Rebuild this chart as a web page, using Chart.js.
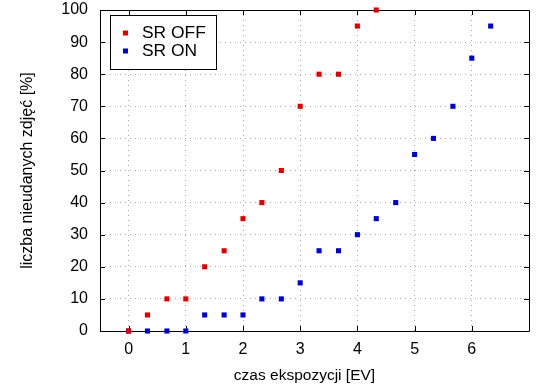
<!DOCTYPE html>
<html>
<head>
<meta charset="utf-8">
<script src="https://cdn.jsdelivr.net/npm/chart.js@4/dist/chart.umd.min.js"></script>
<style>
  html, body { margin: 0; padding: 0; background: #fff; }
  #wrap { width: 550px; height: 389px; }
</style>
</head>
<body>
<div id="wrap"><canvas id="ev-chart"></canvas></div>
<script>
// data
let evOff = [0, 0.33, 0.67, 1, 1.33, 1.67, 2, 2.33, 2.67, 3, 3.33, 3.67, 4, 4.33];
let failOff = [0, 5, 10, 10, 20, 25, 35, 40, 50, 70, 80, 80, 95, 100];
let evOn = [0, 0.33, 0.67, 1, 1.33, 1.67, 2, 2.33, 2.67, 3, 3.33, 3.67, 4, 4.33, 4.67, 5, 5.33, 5.67, 6, 6.33];
let failOn = [0, 0, 0, 0, 5, 5, 5, 10, 10, 15, 25, 25, 30, 35, 40, 55, 60, 70, 85, 95];
let xTicks = [0, 1, 2, 3, 4, 5, 6];
let yTicks = [0, 10, 20, 30, 40, 50, 60, 70, 80, 90, 100];
let seriesNames = ['SR OFF', 'SR ON'];
let seriesColors = ['rgb(225, 0, 0)', 'rgb(0, 0, 210)'];
let xTitle = 'czas ekspozycji [EV]';

Chart.defaults.font.family = "'Liberation Sans', Arial, sans-serif";
Chart.defaults.font.size = 16;
Chart.defaults.color = '#000';

function toPoints(xs, ys) {
    return xs.map((x, i) => ({ x: x, y: ys[i] }));
}

// black frame + inward tick marks (gnuplot style)
let frame = {
    id: 'frame',
    beforeDatasetsDraw(chart) {
        let ctx = chart.ctx;
        let a = chart.chartArea;
        let xs = chart.scales.x, ys = chart.scales.y;
        ctx.save();
        ctx.strokeStyle = '#000';
        ctx.lineWidth = 1;
        ctx.beginPath();
        ctx.rect(Math.round(a.left) + 0.5, Math.round(a.top) + 0.5,
                 Math.round(a.right - a.left), Math.round(a.bottom - a.top));
        xs.ticks.forEach(t => {
            let px = Math.round(xs.getPixelForValue(t.value)) + 0.5;
            ctx.moveTo(px, a.bottom); ctx.lineTo(px, a.bottom - 5);
            ctx.moveTo(px, a.top); ctx.lineTo(px, a.top + 5);
        });
        ys.ticks.forEach(t => {
            let py = Math.round(ys.getPixelForValue(t.value)) + 0.5;
            ctx.moveTo(a.left, py); ctx.lineTo(a.left + 5, py);
            ctx.moveTo(a.right, py); ctx.lineTo(a.right - 5, py);
        });
        ctx.stroke();
        ctx.restore();
    }
};

// boxed key in the upper left corner, x axis title
let keyBox = {
    id: 'keyBox',
    afterDatasetsDraw(chart) {
        let ctx = chart.ctx;
        let a = chart.chartArea;
        let left = Math.round(a.left) + 10, top = Math.round(a.top) + 5;
        ctx.save();
        ctx.fillStyle = '#fff';
        ctx.fillRect(left, top, 106, 54);
        ctx.strokeStyle = '#000';
        ctx.lineWidth = 1;
        ctx.strokeRect(left + 0.5, top + 0.5, 106, 54);
        ctx.font = "17.4px 'Liberation Sans', Arial, sans-serif";
        ctx.textBaseline = 'middle';
        chart.data.datasets.forEach((ds, i) => {
            let cy = top + 18 + i * 18;
            ctx.fillStyle = ds.backgroundColor;
            ctx.fillRect(left + 13, cy - 2.5, 5, 5);
            ctx.fillStyle = '#000';
            ctx.fillText(ds.label, left + 32, cy);
        });

        // axis title, sitting a bit left of the plot centre as in the original
        ctx.font = "15.5px 'Liberation Sans', Arial, sans-serif";
        ctx.textAlign = 'center';
        ctx.fillStyle = '#000';
        ctx.fillText(xTitle, (a.left + a.right) / 2 - 10, chart.height - 13);
        ctx.restore();
    }
};

let evCtx = document.getElementById('ev-chart').getContext('2d');

let evChart = new Chart(evCtx, {
    type: 'scatter',
    data: {
        datasets: [{
            label: seriesNames[0],
            data: toPoints(evOff, failOff),
            backgroundColor: seriesColors[0],
            borderColor: seriesColors[0],
            borderWidth: 0,
            pointStyle: 'rect',
            pointRadius: 3.6,
            clip: false
        }, {
            label: seriesNames[1],
            data: toPoints(evOn, failOn),
            backgroundColor: seriesColors[1],
            borderColor: seriesColors[1],
            borderWidth: 0,
            pointStyle: 'rect',
            pointRadius: 3.6,
            clip: false
        }]
    },
    options: {
        responsive: true,
        maintainAspectRatio: false,
        animation: false,
        layout: { padding: { top: 0, right: 21, left: 0, bottom: 0 } },
        plugins: {
            legend: { display: false },
            tooltip: { enabled: false }
        },
        scales: {
            x: {
                type: 'linear',
                min: -0.5,
                max: 7,
                afterBuildTicks: (scale) => { scale.ticks = xTicks.map(v => ({ value: v })); },
                afterFit: (scale) => { scale.height = 58; },
                grid: { color: '#aaa', drawTicks: false },
                border: { display: false, dash: [1, 4] },
                ticks: { padding: 9, maxRotation: 0 }
            },
            y: {
                type: 'linear',
                min: 0,
                max: 100,
                afterBuildTicks: (scale) => { scale.ticks = yTicks.map(v => ({ value: v })); },
                afterFit: (scale) => { scale.width = 100; scale.paddingTop = 10; },
                grid: { color: '#aaa', drawTicks: false },
                border: { display: false, dash: [1, 4] },
                ticks: { padding: 12 },
                title: {
                    display: true,
                    text: 'liczba nieudanych zdjęć [%]',
                    padding: { top: 18, bottom: 0 }
                }
            }
        }
    },
    plugins: [frame, keyBox]
});
</script>
</body>
</html>
